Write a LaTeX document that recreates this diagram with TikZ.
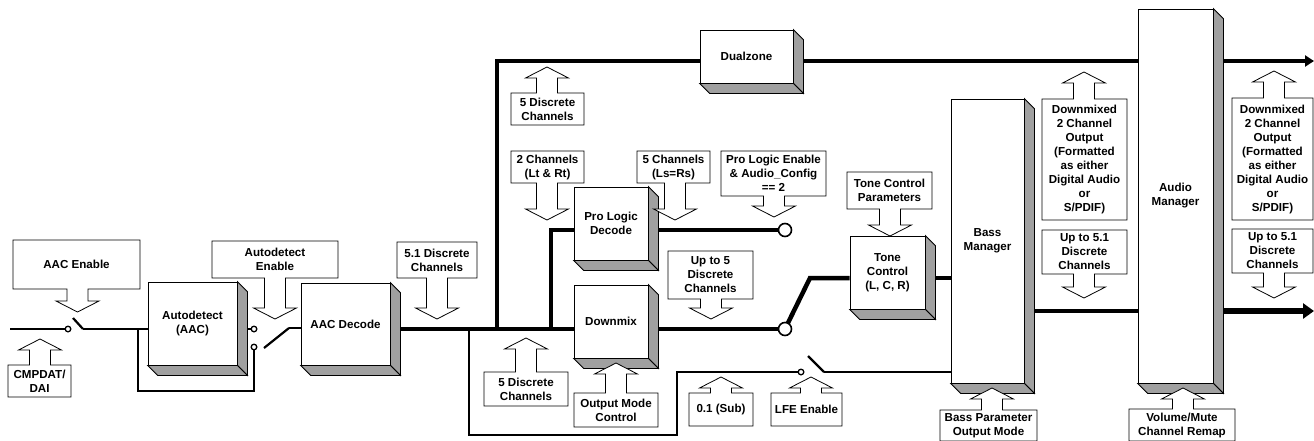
\documentclass[tikz,border=0pt]{standalone}
\usepackage{fontspec}
\setmainfont{Liberation Sans}
\usetikzlibrary{arrows.meta}
\definecolor{facegrey}{RGB}{160,160,160}
\pgfdeclarelayer{wires}
\pgfsetlayers{wires,main}

\tikzset{
  lbl/.style={font=\fontsize{11.6}{14}\selectfont\bfseries, align=center, inner sep=0pt},
  outline/.style={draw=black, line width=0.8pt, fill=white, line join=miter},
  side/.style={draw=black, line width=0.8pt, fill=facegrey, line join=miter},
  bus/.style={line width=4.5pt},
  wire/.style={line width=2.8pt},
  thinwire/.style={line width=2pt},
  blade/.style={line width=2.2pt},
  contact/.style={draw=black, line width=1.3pt, fill=white},
  bigcontact/.style={draw=black, line width=1.6pt, fill=white},
}

% 3-D block: name, left, top, width, height, text
\newcommand{\blockbox}[6]{%
  \node[outline, lbl, minimum width=#4pt, minimum height=#5pt] (#1) at ({#2+#4/2},{#3+#5/2}) {#6};
  \draw[side] (#1.north east) -- ++(10,10) -- ([shift={(10,10)}]#1.south east) -- (#1.south east) -- cycle;
  \draw[side] (#1.south west) -- (#1.south east) -- ([shift={(10,10)}]#1.south east) -- ([shift={(10,10)}]#1.south west) -- cycle;
}

% callout box with a block arrow pointing down: name, x1, y1, x2, y2, arrow x, tip y, text
\newcommand{\calldown}[8]{%
  \draw[outline] (#2,#3) -- (#4,#3) -- (#4,#5) -- ({#6+10.5},#5) -- ({#6+10.5},{#7-11})
    -- ({#6+21.5},{#7-11}) -- (#6,#7) -- ({#6-21.5},{#7-11}) -- ({#6-10.5},{#7-11})
    -- ({#6-10.5},#5) -- (#2,#5) -- cycle;
  \node[lbl] (#1) at ({(#2+#4)/2},{(#3+#5)/2}) {#8};
}

% callout box with a block arrow pointing up: name, x1, y1, x2, y2, arrow x, tip y, text
\newcommand{\callup}[8]{%
  \draw[outline] (#2,#3) -- ({#6-10.5},#3) -- ({#6-10.5},{#7+11}) -- ({#6-21.5},{#7+11})
    -- (#6,#7) -- ({#6+21.5},{#7+11}) -- ({#6+10.5},{#7+11}) -- ({#6+10.5},#3)
    -- (#4,#3) -- (#4,#5) -- (#2,#5) -- cycle;
  \node[lbl] (#1) at ({(#2+#4)/2},{(#3+#5)/2}) {#8};
}

\begin{document}
\begin{tikzpicture}[x=1pt,y=-1pt]
\useasboundingbox (0,0) rectangle (1314,440);

% ---- switch contacts, bends and free ends ----
\coordinate (in)   at (10,329);
\coordinate (s1)   at (68,329);
\coordinate (b1a)  at (73,318);
\coordinate (b1b)  at (83,329);
\coordinate (loopL) at (138,329);
\coordinate (s2a)  at (254,329);
\coordinate (s2b)  at (254,347);
\coordinate (b2a)  at (264,348);
\coordinate (b2b)  at (289,328);
\coordinate (j1)   at (469,329);
\coordinate (j2)   at (497,329);
\coordinate (j3)   at (551,329);
\coordinate (topY) at (497,61);
\coordinate (plY)  at (551,230);
\coordinate (c1)   at (785,230);
\coordinate (c2)   at (785,329);
\coordinate (kn)   at (810,278);
\coordinate (loY)  at (1000,311);
\coordinate (lfeB) at (469,435);
\coordinate (lfeK) at (677,372);
\coordinate (s3)   at (801,372);
\coordinate (b3a)  at (808,356);
\coordinate (b3b)  at (824,372);
\coordinate (outTop) at (1314,61);
\coordinate (outLow) at (1314,311);

% ---- blocks ----
\blockbox{ad}{148}{282}{89}{83}{Autodetect\\(AAC)}
\blockbox{aac}{301}{283}{89}{82}{AAC Decode}
\blockbox{pl}{574}{187}{74}{73}{Pro Logic\\Decode}
\blockbox{dm}{574}{285}{74}{73}{Downmix}
\blockbox{dz}{700}{30}{93}{53}{Dualzone}
\blockbox{tc}{850}{236}{75}{73}{Tone\\Control\\(L, C, R)}
\blockbox{bm}{951}{99}{73}{284}{Bass\\Manager}
\blockbox{am}{1138}{9}{75}{374}{Audio\\Manager}

% ---- connectors, kept underneath the blocks ----
\begin{pgfonlayer}{wires}
\draw[wire] (in) -- (s1);
\draw[blade] (b1a) -- (b1b);
\draw[wire] (b1b) -- (ad.west |- b1b);
\draw[wire, line join=miter] (loopL) -- ++(0,62) -| (s2b);
\draw[wire] (ad.east |- s2a) -- (s2a);
\draw[blade] (b2a) -- (b2b);
\draw[wire] (b2b) -- (aac.west |- b2b);
\draw[bus] (aac.east |- j1) -- (dm.west |- j1);
\draw[bus, line join=miter] (j2) |- (dz.west |- topY);
\draw[bus] (dz.east |- topY) -- (am.west |- topY);
\draw[bus, -{Triangle[length=9pt,width=11pt]}] (am.east |- topY) -- (outTop);
\draw[bus, line join=miter] (j3) |- (pl.west |- plY);
\draw[bus] (pl.east |- plY) -- (c1);
\draw[bus] (dm.east |- j1) -- (c2);
\draw[bus, line join=miter] (c2) -- (kn) -- (tc.west |- kn);
\draw[bus] (tc.east |- kn) -- (bm.west |- kn);
\draw[bus] (bm.east |- loY) -- (am.west |- loY);
\draw[line width=5.5pt, -{Triangle[length=11pt,width=15pt]}] (am.east |- loY) -- (outLow);
\draw[wire, line join=miter] (j1) -- (lfeB) -| (lfeK) -- (s3);
\draw[blade] (b3a) -- (b3b);
\draw[thinwire] (b3b) -- (bm.west |- b3b);
\end{pgfonlayer}

% ---- callouts ----
\calldown{aacen}{13}{240}{140}{289}{77.5}{312}{AAC Enable}
\callup{cmpdat}{8}{365}{71}{397}{40}{339}{CMPDAT/\\DAI}
\calldown{aden}{212}{241}{338}{278}{275}{319}{Autodetect\\Enable}
\calldown{fivept}{397}{242}{477}{278}{437}{319}{5.1 Discrete\\Channels}
\callup{fivetop}{511}{93}{584}{125}{547}{67}{5 Discrete\\Channels}
\calldown{twoch}{511}{151}{584}{183}{547}{220}{2 Channels\\(Lt \& Rt)}
\calldown{fivech}{637}{151}{710}{183}{675}{220}{5 Channels\\(Ls=Rs)}
\calldown{plen}{721}{151}{826}{196}{774}{217}{Pro Logic Enable\\\& Audio\_Config\\== 2}
\calldown{tcpar}{847}{172}{932}{209}{890}{236}{Tone Control\\Parameters}
\calldown{uptofive}{668}{251}{753}{299}{711}{319}{Up to 5\\Discrete\\Channels}
\callup{fivelow}{484}{372}{568}{406}{526}{338}{5 Discrete\\Channels}
\callup{outmode}{574}{393}{658}{427}{616}{363}{Output Mode\\Control}
\callup{sub}{689}{393}{753}{426}{721}{377}{0.1 (Sub)}
\callup{lfeen}{771}{393}{842}{426}{811}{377}{LFE Enable}
\callup{basspar}{940}{410}{1037}{441}{992}{388}{Bass Parameter\\Output Mode}
\callup{volmute}{1129}{409}{1235}{441}{1183}{388}{Volume/Mute\\Channel Remap}
\callup{dmxL}{1042}{99}{1127}{220}{1084}{72}{Downmixed\\2 Channel\\Output\\(Formatted\\as either\\Digital Audio\\or\\S/PDIF)}
\calldown{upL}{1042}{230}{1127}{274}{1084}{298}{Up to 5.1\\Discrete\\Channels}
\callup{dmxR}{1232}{98}{1313}{220}{1274}{71}{Downmixed\\2 Channel\\Output\\(Formatted\\as either\\Digital Audio\\or\\S/PDIF)}
\calldown{upR}{1232}{229}{1313}{273}{1274}{298}{Up to 5.1\\Discrete\\Channels}

% ---- switch contacts ----
\draw[contact] (s1) circle (2.8);
\draw[contact] (s2a) circle (2.8);
\draw[contact] (s2b) circle (2.8);
\draw[contact] (s3) circle (2.8);
\draw[bigcontact] (c1) circle (6.5);
\draw[bigcontact] (c2) circle (6.5);
\end{tikzpicture}
\end{document}
